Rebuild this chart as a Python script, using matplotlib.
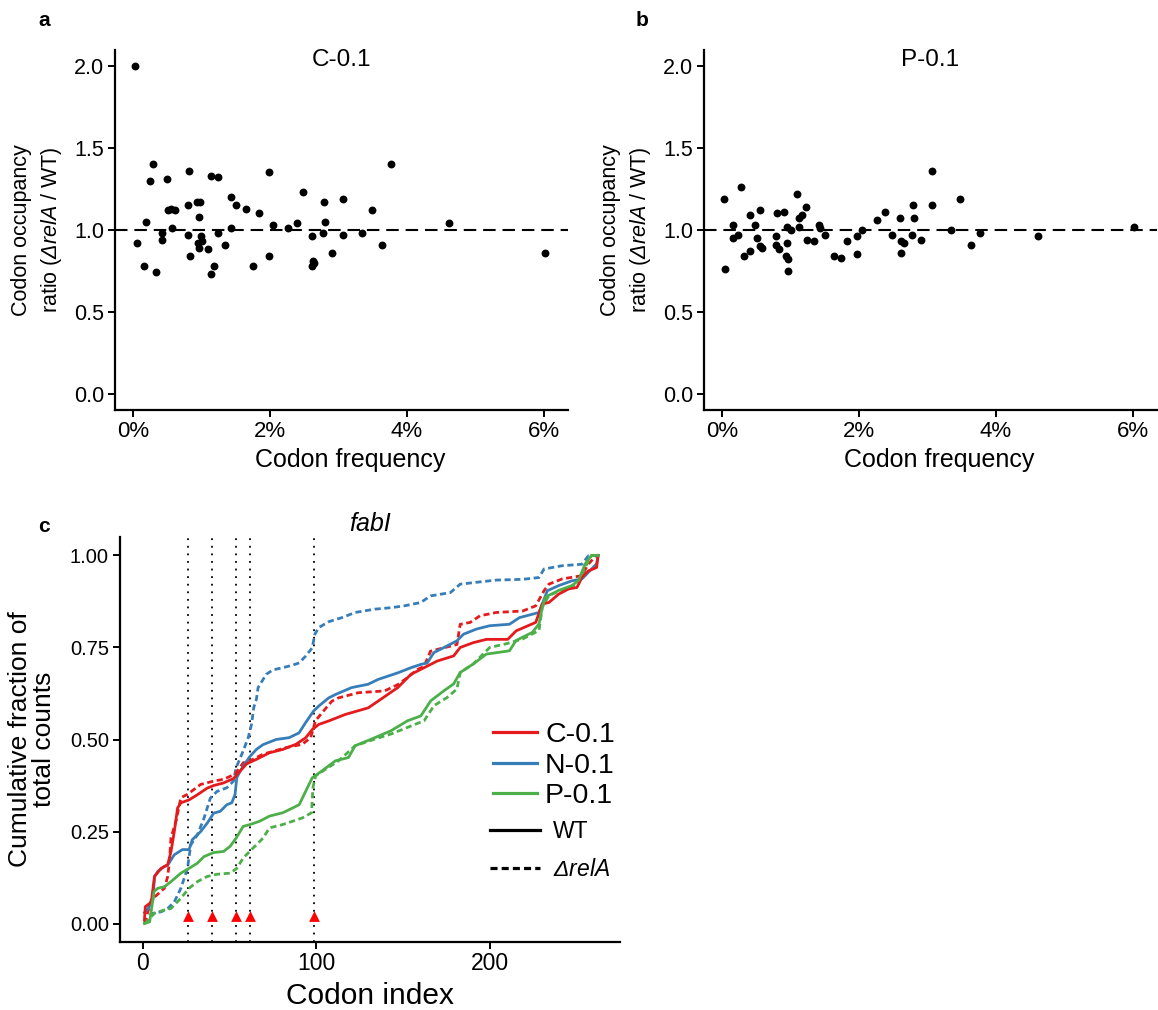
import matplotlib
matplotlib.use('Agg')
import matplotlib.pyplot as plt
from matplotlib.lines import Line2D

plt.rcParams['font.family'] = ['Liberation Sans', 'DejaVu Sans']
# math text only used for the italic "ΔrelA" pieces -> make both fonts italic
plt.rcParams['mathtext.fontset'] = 'custom'
plt.rcParams['mathtext.rm'] = 'Liberation Sans:italic'
plt.rcParams['mathtext.it'] = 'Liberation Sans:italic'

# ---- panel a: C-0.1 codon occupancy ratio vs codon frequency (%)
a_freq = [0.03, 0.29, 0.25, 0.50, 0.82, 1.14, 1.24, 1.98, 3.77, 1.43, 1.50, 1.65,
          1.84, 2.48, 2.79, 3.07, 3.49, 4.62, 6.02, 0.19, 0.51, 0.56, 0.61, 0.81,
          0.93, 0.98, 0.97, 0.57, 0.42, 0.42, 0.06, 0.17, 0.34, 0.80, 0.84, 0.99,
          1.01, 0.95, 0.96, 1.10, 1.18, 1.14, 1.25, 1.35, 1.43, 1.75, 1.98, 2.05,
          2.27, 2.39, 2.61, 2.78, 2.81, 2.63, 2.65, 2.62, 2.91, 3.07, 3.35, 3.64]
a_ratio = [2.00, 1.40, 1.30, 1.31, 1.36, 1.33, 1.32, 1.35, 1.40, 1.20, 1.15, 1.13,
           1.10, 1.23, 1.17, 1.19, 1.12, 1.04, 0.86, 1.05, 1.12, 1.13, 1.12, 1.15,
           1.17, 1.17, 1.08, 1.01, 0.98, 0.94, 0.92, 0.78, 0.74, 0.97, 0.84, 0.96,
           0.93, 0.92, 0.89, 0.88, 0.78, 0.73, 0.98, 0.91, 1.01, 0.78, 0.84, 1.03,
           1.01, 1.04, 0.96, 0.98, 1.05, 0.81, 0.80, 0.78, 0.86, 0.97, 0.98, 0.91]

# ---- panel b: P-0.1
b_freq = [0.03, 0.05, 0.28, 0.17, 0.16, 0.24, 0.33, 0.41, 0.41, 0.48, 0.51, 0.56,
          0.56, 0.59, 0.79, 0.79, 0.83, 0.81, 0.91, 0.95, 1.01, 0.95, 0.94, 0.97,
          0.97, 1.09, 1.12, 1.17, 1.13, 1.23, 1.24, 1.35, 1.42, 1.43, 1.50, 1.64,
          1.74, 1.83, 1.97, 1.97, 2.05, 2.26, 2.38, 2.48, 2.60, 2.61, 2.66, 2.62,
          2.77, 2.79, 2.80, 2.91, 3.07, 3.07, 3.35, 3.48, 3.64, 3.77, 4.61, 6.02]
b_ratio = [1.185, 0.76, 1.26, 1.03, 0.95, 0.97, 0.84, 0.87, 1.09, 1.03, 0.95, 1.12,
           0.90, 0.89, 0.96, 0.91, 0.88, 1.10, 1.11, 1.02, 1.00, 0.92, 0.84, 0.82,
           0.75, 1.22, 1.07, 1.09, 1.02, 1.14, 0.94, 0.93, 1.03, 1.01, 0.97, 0.84,
           0.83, 0.93, 0.96, 0.85, 1.00, 1.06, 1.11, 0.97, 1.07, 0.93, 0.92, 0.86,
           0.97, 1.15, 1.075, 0.94, 1.36, 1.15, 1.00, 1.19, 0.91, 0.98, 0.96, 1.02]

# ---- panel c: fabI cumulative fraction of counts
c_wt_x = [1, 1.5, 4.9, 6.8, 10.6, 14.4, 16.3, 18.2, 20.1, 22.0, 26.7, 31.5, 37.2, 40.9,
          46.6, 52.3, 56.1, 59.9, 65.5, 73.1, 80.7, 88.3, 94.0, 97.7, 101.5, 107, 116.7,
          130, 135.6, 147, 154.6, 162.2, 169.7, 179.2, 183, 190.5, 198.1, 210.4, 215.2,
          226.5, 230.3, 234.1, 239.8, 245.5, 250.3, 253.1, 256.9, 261.6, 262.5]
c_wt_y = [0.01, 0.046, 0.058, 0.128, 0.15, 0.16, 0.196, 0.25, 0.314, 0.328, 0.336, 0.35,
          0.368, 0.375, 0.382, 0.394, 0.414, 0.434, 0.446, 0.464, 0.473, 0.487, 0.505,
          0.527, 0.541, 0.55, 0.568, 0.586, 0.604, 0.641, 0.677, 0.695, 0.713, 0.727,
          0.75, 0.763, 0.772, 0.772, 0.795, 0.818, 0.868, 0.872, 0.895, 0.909, 0.913,
          0.94, 0.958, 0.967, 1.0]
c_ko_x = [1, 4.9, 12.5, 14.4, 15.4, 16.3, 19.2, 22.0, 25.8, 33.4, 40.9, 46.6, 53.2, 58.0,
          61.8, 69.3, 82.6, 92.0, 96.8, 99.6, 103.4, 109, 112.8, 124.2, 139.4, 147,
          152.6, 158.3, 162.2, 165.9, 173.5, 181.1, 183, 188.7, 194.4, 203.8, 219,
          226.5, 231.3, 234.1, 241.7, 253.1, 256.9, 261.6]
c_ko_y = [0.0, 0.064, 0.096, 0.128, 0.17, 0.233, 0.279, 0.342, 0.351, 0.378, 0.387,
          0.392, 0.406, 0.437, 0.442, 0.46, 0.478, 0.487, 0.505, 0.551, 0.573, 0.604,
          0.613, 0.627, 0.632, 0.649, 0.668, 0.69, 0.699, 0.74, 0.749, 0.758, 0.813,
          0.818, 0.836, 0.845, 0.849, 0.863, 0.904, 0.922, 0.936, 0.945, 0.977, 1.0]

n_wt_x = [1, 3.0, 5.9, 6.8, 8.7, 12.5, 14.4, 18.2, 22.9, 26.7, 28.6, 33.4, 37.2, 40.9,
          44.7, 48.5, 51.3, 53.2, 54.2, 56.1, 59.9, 61.8, 65.5, 69.3, 76.9, 84.4, 90.1,
          93.9, 98.6, 101.5, 107.2, 111, 120.4, 129.9, 135.6, 147, 154.6, 160.3, 164,
          167.8, 175.4, 181.1, 184.9, 192.4, 200, 211.4, 217.1, 228.4, 233.2, 239.8,
          247.4, 253.1, 261.6, 262.5]
n_wt_y = [0.03, 0.04, 0.065, 0.128, 0.142, 0.155, 0.159, 0.187, 0.201, 0.201, 0.228,
          0.25, 0.273, 0.30, 0.305, 0.323, 0.328, 0.35, 0.396, 0.414, 0.441, 0.454,
          0.473, 0.486, 0.50, 0.505, 0.518, 0.546, 0.578, 0.591, 0.613, 0.622, 0.641,
          0.65, 0.663, 0.681, 0.695, 0.704, 0.708, 0.736, 0.754, 0.768, 0.786, 0.80,
          0.809, 0.813, 0.831, 0.845, 0.904, 0.918, 0.931, 0.936, 0.977, 1.0]
n_ko_x = [1, 4.9, 10.6, 14.4, 18.2, 22.0, 25.8, 27.7, 31.5, 35.3, 39.0, 42.8, 48.5,
          52.3, 53.8, 57.9, 60.8, 62.7, 64.0, 65.5, 66.5, 71.2, 75, 80.7, 86.4, 90.2,
          94, 97.7, 99.2, 101.5, 107.2, 114.8, 122.4, 133.7, 143.2, 150.7, 160.2, 165.9,
          177.3, 183, 190.5, 203.8, 219, 228.4, 231.3, 241.7, 253.1, 256.9, 261.6]
n_ko_y = [0.0, 0.027, 0.032, 0.041, 0.059, 0.096, 0.15, 0.214, 0.241, 0.286, 0.341,
          0.359, 0.369, 0.387, 0.423, 0.469, 0.505, 0.541, 0.587, 0.609, 0.641, 0.677,
          0.689, 0.695, 0.702, 0.708, 0.727, 0.749, 0.786, 0.804, 0.82, 0.831, 0.845,
          0.854, 0.858, 0.863, 0.872, 0.89, 0.899, 0.922, 0.926, 0.933, 0.935, 0.94,
          0.963, 0.972, 0.976, 0.999, 1.0]

p_wt_x = [1, 4.0, 6.5, 8.7, 12.5, 16.3, 22.0, 26.7, 31.5, 35.3, 40.9, 46.6, 50.4, 53.8,
          57.9, 61.8, 67.4, 73.1, 80.7, 86.4, 90.2, 94.0, 97.7, 103.4, 111, 118.6, 122.4,
          131.8, 143.2, 152.7, 160.3, 166, 173.5, 179.2, 183, 190.5, 198.1, 205.7, 211.4,
          215.2, 224.6, 228.4, 230.3, 232.2, 239.8, 247.4, 251.2, 255, 258.7, 262.5]
p_wt_y = [0.0, 0.005, 0.087, 0.096, 0.10, 0.114, 0.137, 0.15, 0.164, 0.182, 0.193,
          0.196, 0.21, 0.232, 0.264, 0.269, 0.278, 0.292, 0.301, 0.314, 0.323, 0.36,
          0.396, 0.415, 0.442, 0.451, 0.483, 0.501, 0.524, 0.551, 0.564, 0.605, 0.632,
          0.651, 0.682, 0.705, 0.732, 0.737, 0.741, 0.769, 0.791, 0.814, 0.859, 0.887,
          0.905, 0.918, 0.932, 0.977, 1.0, 1.0]
p_ko_x = [1, 6.8, 12.5, 16.3, 22.0, 26.7, 31.5, 37.2, 42.8, 50.4, 54.2, 57.9, 62.7, 65.5,
          69.3, 73.1, 80.7, 86.4, 92.0, 97.3, 98.1, 99.6, 105.3, 112.9, 122.4, 133.7,
          143.2, 152.7, 162.2, 167.9, 175.4, 181.1, 183, 190.5, 200, 209.5, 219, 228.4,
          230.3, 234.1, 245.5, 251.2, 255, 258.7, 262.5]
p_ko_y = [0.0, 0.028, 0.037, 0.041, 0.069, 0.096, 0.114, 0.128, 0.134, 0.137, 0.15,
          0.178, 0.201, 0.214, 0.232, 0.26, 0.269, 0.278, 0.287, 0.301, 0.369, 0.401,
          0.419, 0.442, 0.483, 0.501, 0.515, 0.533, 0.551, 0.592, 0.614, 0.637, 0.682,
          0.705, 0.75, 0.76, 0.773, 0.796, 0.859, 0.891, 0.914, 0.923, 0.968, 1.0, 1.0]

sites = [26, 40, 54, 62, 99]

red, blue, green = '#E41A1C', '#377EB8', '#4DAF4A'


def style_axes(ax):
    for s in ['top', 'right']:
        ax.spines[s].set_visible(False)
    for s in ['left', 'bottom']:
        ax.spines[s].set_linewidth(1.6)
    ax.tick_params(width=1.4, length=5, pad=3, colors='black')


W, H = 1158, 1010
fig = plt.figure(figsize=(W / 100, H / 100), dpi=100)

ylab = 'Codon occupancy\nratio ($\\Delta relA$ / WT)'
for left, freq, ratio, title, letter, lx in [(115, a_freq, a_ratio, 'C-0.1', 'a', 38),
                                              (704, b_freq, b_ratio, 'P-0.1', 'b', 636)]:
    ax = fig.add_axes([left / W, (H - 410) / H, 453 / W, 360.4 / H])
    ax.scatter(freq, ratio, s=32, color='black', zorder=3, linewidths=0)
    ax.axhline(1.0, color='black', lw=1.5, dashes=(6, 3.3))
    ax.set_xlim(-0.26, 6.35)
    ax.set_ylim(-0.1, 2.1)
    ax.set_xticks([0, 2, 4, 6])
    ax.set_xticklabels(['0%', '2%', '4%', '6%'])
    ax.set_yticks([0, 0.5, 1.0, 1.5, 2.0])
    ax.set_yticklabels(['0.0', '0.5', '1.0', '1.5', '2.0'])
    style_axes(ax)
    ax.tick_params(axis='y', labelsize=15.5)
    ax.tick_params(axis='x', labelsize=16)
    ax.set_xlabel('Codon frequency', fontsize=18)
    ax.xaxis.set_label_coords(0.52, -0.105)
    ax.set_ylabel(ylab, fontsize=15.5, linespacing=1.4)
    ax.yaxis.set_label_coords(-0.112, 0.5)
    ax.text(0.5, 0.971, title, transform=ax.transAxes, ha='center', va='center', fontsize=17.5)
    fig.text(lx / W, 1 - 20 / H, letter, fontsize=15, fontweight='bold', ha='left', va='center')

# ---- panel c
ax = fig.add_axes([120 / W, (H - 942) / H, 500 / W, 405 / H])
for xv in sites:
    ax.axvline(xv, color='black', lw=1.3, linestyle=(0, (1, 3.2)), zorder=1)
ax.plot(n_ko_x, n_ko_y, color=blue, lw=2, linestyle=(0, (2.2, 1.3)))
ax.plot(c_ko_x, c_ko_y, color=red, lw=2, linestyle=(0, (2.2, 1.3)))
ax.plot(p_ko_x, p_ko_y, color=green, lw=2, linestyle=(0, (2.2, 1.3)))
ax.plot(n_wt_x, n_wt_y, color=blue, lw=2)
ax.plot(c_wt_x, c_wt_y, color=red, lw=2)
ax.plot(p_wt_x, p_wt_y, color=green, lw=2)
ax.scatter(sites, [0.02] * len(sites), marker='^', s=60, color='red', zorder=4, linewidths=0)
ax.set_xlim(-13.1, 275.1)
ax.set_ylim(-0.05, 1.05)
ax.set_xticks([0, 100, 200])
ax.set_yticks([0, 0.25, 0.5, 0.75, 1.0])
ax.set_yticklabels(['0.00', '0.25', '0.50', '0.75', '1.00'])
style_axes(ax)
ax.tick_params(axis='y', labelsize=14.5)
ax.tick_params(axis='x', labelsize=16.5, pad=2)
ax.set_xlabel('Codon index', fontsize=21.5, labelpad=5)
ax.set_ylabel('Cumulative fraction of\ntotal counts', fontsize=19, linespacing=1.0)
ax.yaxis.set_label_coords(-0.128, 0.5)
ax.set_title('fabI', fontsize=18, style='italic', pad=4)
fig.text(38 / W, 1 - 527 / H, 'c', fontsize=15, fontweight='bold', ha='left', va='center')

col_handles = [Line2D([], [], color=c, lw=2.3) for c in (red, blue, green)]
leg1 = ax.legend(col_handles, ['C-0.1', 'N-0.1', 'P-0.1'], loc='upper left',
                 bbox_to_anchor=(0.746, 0.543), frameon=False, fontsize=20.5,
                 handlelength=1.55, handletextpad=0.28, labelspacing=0.16,
                 borderpad=0, borderaxespad=0)
ax.add_artist(leg1)
lt_handles = [Line2D([], [], color='black', lw=2.3),
              Line2D([], [], color='black', lw=2.3, linestyle=(0, (2.2, 1.3)))]
ax.legend(lt_handles, ['WT', '$\\Delta relA$'], loc='upper left',
          bbox_to_anchor=(0.74, 0.301), frameon=False, fontsize=16.5,
          handlelength=2.17, handletextpad=0.56, labelspacing=0.65,
          borderpad=0, borderaxespad=0)

fig.savefig('out.png', dpi=100)
